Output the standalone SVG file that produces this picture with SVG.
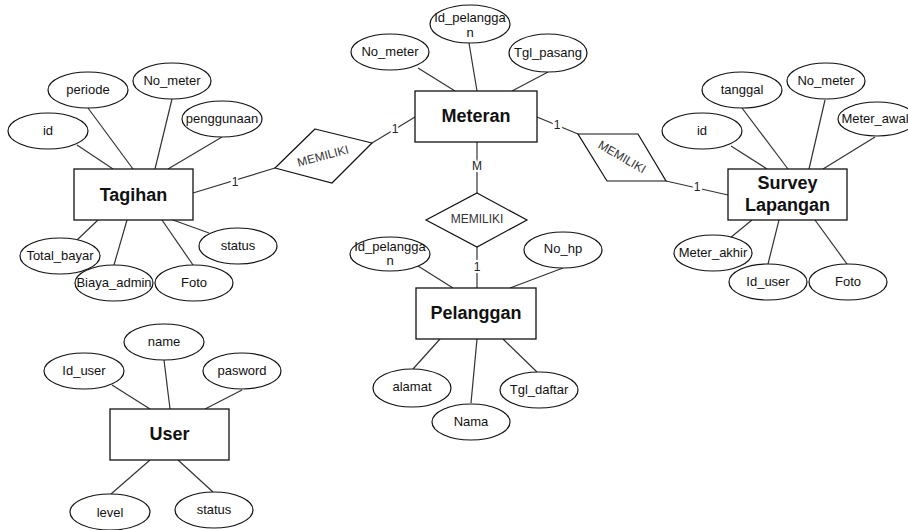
<svg xmlns="http://www.w3.org/2000/svg" width="908" height="530" viewBox="0 0 908 530">
<style>
.bg{fill:#fff}
.ln line{stroke:#333;stroke-width:1.2}
.lbl{font-family:"Liberation Sans",Arial,sans-serif;font-size:12px;fill:#222;text-anchor:middle;dominant-baseline:central;stroke:#fff;stroke-width:4;paint-order:stroke}
ellipse{fill:#fff;stroke:#111;stroke-width:1.2}
rect.box{fill:#fff;stroke:#111;stroke-width:1.3}
polygon.rel{fill:#fff;stroke:#111;stroke-width:1.2}
text{font-family:"Liberation Sans",Arial,sans-serif;fill:#111;text-anchor:middle;dominant-baseline:central}
.t{font-size:13px}
.r{font-size:12px;fill:#333}
.e{font-size:18px;font-weight:bold}
</style>
<rect class="bg" x="0" y="0" width="908" height="530"/>
<g id="connectors" class="ln">
  <!-- Tagihan attributes -->
  <line x1="77" y1="145" x2="113" y2="169"/>
  <line x1="88" y1="108" x2="133" y2="169"/>
  <line x1="172" y1="99" x2="155" y2="169"/>
  <line x1="222" y1="137" x2="168" y2="169"/>
  <line x1="77" y1="240" x2="98" y2="220"/>
  <line x1="114" y1="265" x2="127" y2="220"/>
  <line x1="193" y1="265" x2="162" y2="220"/>
  <line x1="209" y1="233" x2="173" y2="220"/>
  <!-- Meteran attributes -->
  <line x1="418" y1="68" x2="455" y2="91"/>
  <line x1="469" y1="43" x2="477" y2="91"/>
  <line x1="548" y1="72" x2="512" y2="91"/>
  <!-- Pelanggan attributes -->
  <line x1="418" y1="266" x2="453" y2="288"/>
  <line x1="563" y1="268" x2="510" y2="288"/>
  <line x1="413" y1="369" x2="440" y2="339"/>
  <line x1="471" y1="403" x2="477" y2="339"/>
  <line x1="537" y1="372" x2="503" y2="339"/>
  <!-- Survey attributes -->
  <line x1="731" y1="146" x2="767" y2="169"/>
  <line x1="742" y1="108" x2="788" y2="169"/>
  <line x1="825" y1="100" x2="809" y2="169"/>
  <line x1="875" y1="137" x2="823" y2="169"/>
  <line x1="730" y1="238" x2="752" y2="220"/>
  <line x1="768" y1="264" x2="779" y2="220"/>
  <line x1="847" y1="264" x2="815" y2="220"/>
  <!-- User attributes -->
  <line x1="112" y1="385" x2="150" y2="409"/>
  <line x1="164" y1="360" x2="170" y2="409"/>
  <line x1="242" y1="390" x2="205" y2="409"/>
  <line x1="111" y1="494" x2="150" y2="460"/>
  <line x1="213" y1="492" x2="178" y2="460"/>
  <!-- Relationships -->
  <line x1="193" y1="193" x2="275" y2="168"/>
  <line x1="372" y1="143" x2="415" y2="117"/>
  <line x1="537" y1="117" x2="578" y2="134"/>
  <line x1="666" y1="181" x2="728" y2="195"/>
  <line x1="477" y1="142" x2="477" y2="193"/>
  <line x1="477" y1="247" x2="477" y2="288"/>
  <text class="lbl" x="235" y="182">1</text>
  <text class="lbl" x="395" y="129">1</text>
  <text class="lbl" x="557" y="125">1</text>
  <text class="lbl" x="697" y="187">1</text>
  <text class="lbl" x="477" y="166">M</text>
  <text class="lbl" x="477" y="267">1</text>
</g>
<g id="rel-tagihan-meteran">
  <polygon class="rel" points="315,129 372,143 332,183 275,168"/>
  <text class="r" x="323" y="156" transform="rotate(-15 323 156)">MEMILIKI</text>
</g>
<g id="rel-meteran-survey">
  <polygon class="rel" points="578,134 638,134 666,181 607,181"/>
  <text class="r" x="622" y="157" transform="rotate(30 622 157)">MEMILIKI</text>
</g>
<g id="rel-meteran-pelanggan">
  <polygon class="rel" points="477,193 527,220 477,247 426,220"/>
  <text class="r" x="477" y="219">MEMILIKI</text>
</g>
<g id="tagihan">
  <rect class="box" x="74" y="169" width="119" height="51"/>
  <text class="e" x="133.5" y="195">Tagihan</text>
</g>
<g id="tagihan-periode"><ellipse cx="88" cy="90" rx="40" ry="18"/><text class="t" x="88" y="89">periode</text></g>
<g id="tagihan-no_meter"><ellipse cx="172" cy="81" rx="39" ry="18"/><text class="t" x="172" y="80">No_meter</text></g>
<g id="tagihan-penggunaan"><ellipse cx="222" cy="119" rx="40" ry="18"/><text class="t" x="222" y="118">penggunaan</text></g>
<g id="tagihan-id"><ellipse cx="48" cy="131" rx="40" ry="18"/><text class="t" x="48" y="130">id</text></g>
<g id="tagihan-total_bayar"><ellipse cx="60" cy="256" rx="40" ry="18"/><text class="t" x="60" y="255">Total_bayar</text></g>
<g id="tagihan-status"><ellipse cx="238" cy="246" rx="39" ry="18"/><text class="t" x="238" y="245">status</text></g>
<g id="tagihan-biaya_admin"><ellipse cx="114" cy="283" rx="39" ry="18"/><text class="t" x="114" y="282">Biaya_admin</text></g>
<g id="tagihan-foto"><ellipse cx="194" cy="283" rx="39" ry="18"/><text class="t" x="194" y="282">Foto</text></g>

<g id="meteran">
  <rect class="box" x="415" y="91" width="122" height="51"/>
  <text class="e" x="476" y="116">Meteran</text>
</g>
<g id="meteran-no_meter"><ellipse cx="390" cy="52" rx="39" ry="18"/><text class="t" x="390" y="51">No_meter</text></g>
<g id="meteran-id_pelanggan"><ellipse cx="470" cy="24" rx="40" ry="19"/><text class="t" x="470" y="17">Id_pelangga</text><text class="t" x="470" y="32">n</text></g>
<g id="meteran-tgl_pasang"><ellipse cx="548" cy="53" rx="39" ry="19"/><text class="t" x="548" y="52">Tgl_pasang</text></g>

<g id="pelanggan">
  <rect class="box" x="416" y="288" width="120" height="51"/>
  <text class="e" x="476" y="313">Pelanggan</text>
</g>
<g id="pelanggan-id_pelanggan"><ellipse cx="390" cy="254" rx="40" ry="17"/><text class="t" x="390" y="246">Id_pelangga</text><text class="t" x="390" y="260">n</text></g>
<g id="pelanggan-no_hp"><ellipse cx="563" cy="250" rx="39" ry="18"/><text class="t" x="563" y="248">No_hp</text></g>
<g id="pelanggan-alamat"><ellipse cx="412" cy="388" rx="39" ry="19"/><text class="t" x="412" y="386">alamat</text></g>
<g id="pelanggan-tgl_daftar"><ellipse cx="539" cy="390" rx="39" ry="18"/><text class="t" x="539" y="389">Tgl_daftar</text></g>
<g id="pelanggan-nama"><ellipse cx="471" cy="422" rx="39" ry="18"/><text class="t" x="471" y="421">Nama</text></g>

<g id="survey_lapangan">
  <rect class="box" x="728" y="169" width="119" height="51"/>
  <text class="e" x="787.5" y="183">Survey</text>
  <text class="e" x="787.5" y="205">Lapangan</text>
</g>
<g id="survey-tanggal"><ellipse cx="742" cy="90" rx="40" ry="18"/><text class="t" x="742" y="89">tanggal</text></g>
<g id="survey-no_meter"><ellipse cx="826" cy="81" rx="39" ry="18"/><text class="t" x="826" y="80">No_meter</text></g>
<g id="survey-meter_awal"><ellipse cx="877" cy="119" rx="39" ry="17"/><text class="t" x="875" y="118">Meter_awal</text></g>
<g id="survey-id"><ellipse cx="702" cy="131" rx="40" ry="18"/><text class="t" x="702" y="130">id</text></g>
<g id="survey-meter_akhir"><ellipse cx="713" cy="253" rx="39" ry="18"/><text class="t" x="713" y="252">Meter_akhir</text></g>
<g id="survey-id_user"><ellipse cx="768" cy="282" rx="39" ry="18"/><text class="t" x="768" y="281">Id_user</text></g>
<g id="survey-foto"><ellipse cx="848" cy="282" rx="39" ry="18"/><text class="t" x="848" y="281">Foto</text></g>

<g id="user">
  <rect class="box" x="110" y="409" width="119" height="51"/>
  <text class="e" x="169.5" y="434">User</text>
</g>
<g id="user-name"><ellipse cx="164" cy="342" rx="40" ry="18"/><text class="t" x="164" y="341">name</text></g>
<g id="user-id_user"><ellipse cx="84" cy="371" rx="40" ry="18"/><text class="t" x="84" y="370">Id_user</text></g>
<g id="user-pasword"><ellipse cx="242" cy="371" rx="39" ry="18"/><text class="t" x="242" y="370">pasword</text></g>
<g id="user-level"><ellipse cx="110" cy="512" rx="40" ry="18"/><text class="t" x="110" y="512">level</text></g>
<g id="user-status"><ellipse cx="214" cy="510" rx="39" ry="18"/><text class="t" x="214" y="509">status</text></g>
</svg>
